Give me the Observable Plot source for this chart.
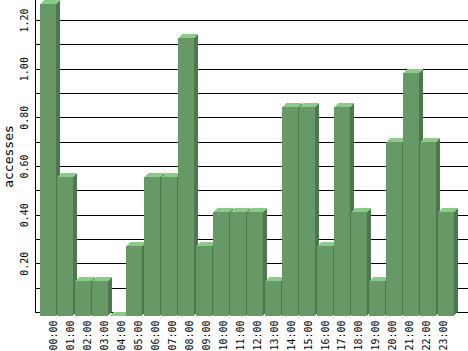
<!DOCTYPE html>
<html><head><meta charset="utf-8">
<script src="https://cdn.jsdelivr.net/npm/d3@7"></script>
<script src="https://cdn.jsdelivr.net/npm/@observablehq/plot@0.6"></script>
<style>
body{margin:0;background:#fff}
#c{position:relative;width:468px;height:351px;overflow:hidden}
#c svg{position:absolute;left:0}
</style>
</head><body><div id="c"></div>
<script>
const hours = ["00:00","01:00","02:00","03:00","04:00","05:00","06:00","07:00","08:00","09:00","10:00","11:00",
               "12:00","13:00","14:00","15:00","16:00","17:00","18:00","19:00","20:00","21:00","22:00","23:00"];
const accesses = [1.28,0.571,0.143,0.143,0,0.286,0.571,0.571,1.143,0.286,0.429,0.429,
                  0.429,0.143,0.857,0.857,0.286,0.857,0.429,0.143,0.714,1.0,0.714,0.429];
const gridTicks = [0,0.1,0.2,0.3,0.4,0.5,0.6,0.7,0.8,0.9,1.0,1.1,1.2];
const labelTicks = [0.2,0.4,0.6,0.8,1.0,1.2];
const yLabel = "accesses";

const frontColor = "#669966";
const topColor = "#88cc88";
const sideColor = "#4d774d";
const depth = [1,2,3,4];

const data = hours.map((h,i)=>({hour:h, value:accesses[i]}));
const fmt = d3.format(".2f");
const mono = "'DejaVu Sans Mono', monospace";

const main = Plot.plot({
  width:468, height:351,
  marginLeft:35, marginRight:0, marginTop:0, marginBottom:39,
  style:{fontFamily:mono, fontSize:"10px", background:"white", color:"black", overflow:"visible"},
  x:{domain:hours, paddingInner:0.075, paddingOuter:0.559, align:0.2585, round:false, axis:null},
  y:{domain:[0,1.282], axis:"left", line:true, ticks:[], tickSize:0, label:null},
  marks:[
    Plot.ruleY(gridTicks, {stroke:"#000", shapeRendering:"crispEdges"}),
    ...depth.map(k => Plot.barY(data, {x:"hour", y:"value", fill:sideColor, dx:k, dy:4-k, shapeRendering:"crispEdges"})),
    ...depth.map(k => Plot.tickY(data, {x:"hour", y:"value", stroke:topColor, dx:k, dy:4-k, shapeRendering:"crispEdges"})),
    Plot.barY(data, {x:"hour", y:"value", fill:frontColor, dy:4, shapeRendering:"crispEdges"}),
    Plot.text(labelTicks, {y:d=>d, text:d=>fmt(d), frameAnchor:"left", textAnchor:"middle", lineAnchor:"middle", rotate:-90, dx:-11, fontSize:10}),
    Plot.text([yLabel], {text:d=>d, frameAnchor:"left", textAnchor:"middle", lineAnchor:"middle", rotate:-90, dx:-27, fontSize:13})
  ]
});
main.style.top = "0px";

const labels = Plot.plot({
  width:468, height:35,
  marginLeft:45, marginRight:16, marginTop:0, marginBottom:0,
  style:{fontFamily:mono, fontSize:"10px", background:"transparent", color:"black", overflow:"visible"},
  x:{type:"band", domain:hours, paddingInner:0, paddingOuter:0, align:0.5, round:false, axis:null},
  marks:[
    Plot.text(hours, {x:d=>d, text:d=>d, frameAnchor:"top", rotate:-90, textAnchor:"end", lineAnchor:"middle", dy:4, fontSize:10})
  ]
});
labels.style.top = "316px";

const c = document.getElementById("c");
c.appendChild(main);
c.appendChild(labels);
</script>
</body></html>
